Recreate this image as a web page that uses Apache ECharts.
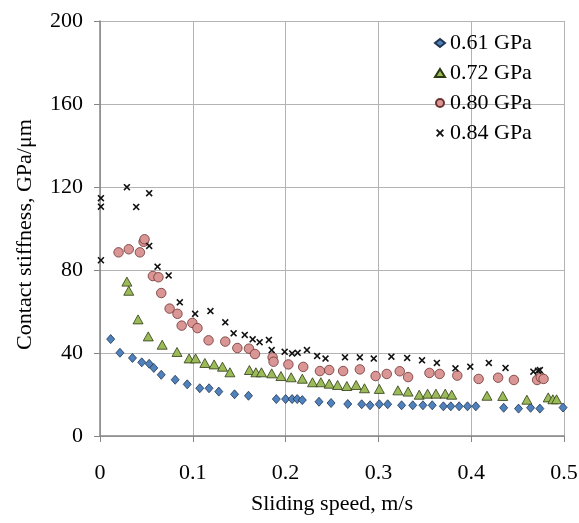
<!DOCTYPE html>
<html>
<head>
<meta charset="utf-8">
<script src="https://cdn.jsdelivr.net/npm/echarts@6/dist/echarts.min.js"></script>
<style>
  html, body { margin: 0; padding: 0; background: #fff; }
  #chart { width: 579px; height: 523px; }
</style>
</head>
<body>
<div id="chart"></div>
<script>
var seriesNames = ['0.61 GPa', '0.72 GPa', '0.80 GPa', '0.84 GPa'];

var speed061 = [0.0115, 0.0215, 0.035, 0.045, 0.053, 0.058, 0.066, 0.081, 0.094, 0.1075, 0.1175, 0.128, 0.145, 0.16,
    0.19, 0.20, 0.207, 0.2125, 0.218, 0.236, 0.249, 0.267, 0.282, 0.291, 0.301, 0.31, 0.325, 0.337, 0.348, 0.358,
    0.37, 0.378, 0.387, 0.396, 0.405, 0.435, 0.451, 0.464, 0.474, 0.499];
var stiff061 = [46.7, 40.1, 37.6, 35.5, 34.8, 32.8, 29.5, 27.1, 24.9, 23.0, 23.0, 21.4, 20.1, 19.4,
    17.8, 17.8, 17.8, 17.8, 17.3, 16.5, 15.9, 15.4, 15.3, 14.8, 15.3, 15.3, 14.8, 14.8, 14.8, 14.8,
    14.3, 14.3, 14.3, 14.3, 14.3, 13.6, 13.2, 13.6, 13.2, 13.7];

var speed072 = [0.029, 0.031, 0.041, 0.052, 0.067, 0.083, 0.096, 0.103, 0.113, 0.123, 0.132, 0.140, 0.161, 0.168,
    0.174, 0.185, 0.195, 0.206, 0.218, 0.229, 0.238, 0.247, 0.256, 0.266, 0.276, 0.285, 0.301, 0.321, 0.332,
    0.344, 0.353, 0.362, 0.372, 0.379, 0.417, 0.434, 0.46, 0.483, 0.488, 0.492];
var stiff072 = [74.4, 70.0, 56.2, 48.0, 44.0, 40.5, 37.4, 37.4, 35.2, 34.5, 33.4, 30.7, 31.8, 30.7,
    30.7, 30.2, 28.9, 28.3, 27.6, 25.9, 25.9, 25.2, 24.6, 24.1, 24.6, 23.0, 22.7, 22.0, 21.4,
    19.9, 20.4, 20.4, 20.4, 19.9, 19.4, 19.3, 17.5, 18.6, 17.7, 17.7];

var speed080 = [0.020, 0.031, 0.043, 0.047, 0.048, 0.057, 0.063, 0.066, 0.075, 0.0835, 0.088, 0.0995, 0.105, 0.117,
    0.135, 0.148, 0.1605, 0.167, 0.186, 0.187, 0.203, 0.219, 0.237, 0.247, 0.262, 0.280, 0.297, 0.309, 0.323,
    0.332, 0.355, 0.366, 0.385, 0.408, 0.429, 0.446, 0.471, 0.475, 0.478];
var stiff080 = [88.5, 90.0, 88.5, 93.6, 94.8, 77.1, 76.5, 68.9, 61.4, 58.9, 53.2, 54.5, 52.0, 46.1,
    45.5, 42.4, 42.1, 39.5, 37.9, 35.8, 34.5, 33.3, 31.3, 31.8, 31.3, 32.1, 28.9, 29.9, 31.2,
    28.4, 30.4, 29.9, 29.1, 27.5, 28.1, 27.0, 27.0, 28.3, 27.5];

var speed084 = [0.001, 0.001, 0.001, 0.029, 0.039, 0.053, 0.053, 0.062, 0.074, 0.086, 0.1025, 0.119, 0.135, 0.144,
    0.156, 0.1645, 0.172, 0.182, 0.185, 0.199, 0.207, 0.213, 0.223, 0.234, 0.243, 0.264, 0.280, 0.295, 0.314,
    0.331, 0.347, 0.363, 0.383, 0.399, 0.419, 0.437, 0.467, 0.472, 0.474];
var stiff084 = [114.6, 110.5, 84.7, 119.9, 110.4, 117.0, 91.6, 81.6, 77.4, 64.4, 58.9, 60.2, 54.8, 49.5,
    48.7, 46.6, 45.2, 46.3, 41.4, 40.6, 39.8, 40.1, 41.4, 38.6, 37.3, 37.9, 37.9, 37.3, 38.2,
    37.6, 36.5, 35.2, 32.6, 33.4, 35.2, 32.8, 31.0, 31.5, 31.8];

function pairs(xs, ys) {
    return xs.map(function(x, i) { return [x, ys[i]]; });
}

var fontFamily = '"Liberation Serif", "Times New Roman", serif';
// thick "x" marker like the spreadsheet one
var crossPath = 'path://M0,1.6 L1.6,0 L5,3.4 L8.4,0 L10,1.6 L6.6,5 L10,8.4 L8.4,10 L5,6.6 L1.6,10 L0,8.4 L3.4,5 Z';

var chart = echarts.init(document.getElementById('chart'));

var option = {
    animation: false,
    backgroundColor: '#fff',
    textStyle: { fontFamily: fontFamily },
    grid: { left: 100, right: 15, top: 21, bottom: 87, outerBoundsMode: 'none', containLabel: false },
    legend: {
        orient: 'vertical',
        left: 429,
        top: 27,
        itemWidth: 10,
        itemHeight: 8,
        itemGap: 8,
        data: seriesNames,
        textStyle: { fontFamily: fontFamily, fontSize: 22, color: '#000', lineHeight: 22 }
    },
    xAxis: {
        type: 'value',
        min: 0,
        max: 0.5,
        interval: 0.1,
        name: 'Sliding speed, m/s',
        nameLocation: 'middle',
        nameGap: 57,
        nameTextStyle: { fontFamily: fontFamily, fontSize: 22, color: '#000' },
        axisLine: { show: true, lineStyle: { color: '#868686', width: 1.5 } },
        axisTick: { show: true, inside: false, length: 6, lineStyle: { color: '#868686' } },
        axisLabel: { fontFamily: fontFamily, fontSize: 22, color: '#000', margin: 26 },
        splitLine: { show: true, lineStyle: { color: '#b3b3b3', width: 1 } }
    },
    yAxis: {
        type: 'value',
        min: 0,
        max: 200,
        interval: 40,
        name: 'Contact stiffness, GPa/μm',
        nameLocation: 'middle',
        nameGap: 64,
        nameTextStyle: { fontFamily: fontFamily, fontSize: 22, color: '#000', padding: [0, 12, 0, 0] },
        axisLine: { show: true, lineStyle: { color: '#868686', width: 1.5 } },
        axisTick: { show: true, inside: false, length: 6, lineStyle: { color: '#868686' } },
        axisLabel: { fontFamily: fontFamily, fontSize: 22, color: '#000', margin: 17 },
        splitLine: { show: true, lineStyle: { color: '#b3b3b3', width: 1 } }
    },
    series: [
        {
            name: seriesNames[0],
            type: 'scatter',
            symbol: 'diamond',
            symbolSize: [8, 9],
            itemStyle: { color: '#4f81bd', borderColor: '#1f3550', borderWidth: 0.8, opacity: 1 },
            data: pairs(speed061, stiff061)
        },
        {
            name: seriesNames[1],
            type: 'scatter',
            symbol: 'triangle',
            symbolSize: [10, 9],
            itemStyle: { color: '#9bbb59', borderColor: '#2d3a14', borderWidth: 0.8, opacity: 1 },
            data: pairs(speed072, stiff072)
        },
        {
            name: seriesNames[2],
            type: 'scatter',
            symbol: 'circle',
            symbolSize: 9.5,
            itemStyle: { color: '#d99694', borderColor: '#6e3231', borderWidth: 0.8, opacity: 1 },
            data: pairs(speed080, stiff080)
        },
        {
            name: seriesNames[3],
            type: 'scatter',
            symbol: crossPath,
            symbolSize: 7,
            itemStyle: { color: '#111', opacity: 1 },
            data: pairs(speed084, stiff084)
        }
    ]
};

chart.setOption(option);
</script>
</body>
</html>
